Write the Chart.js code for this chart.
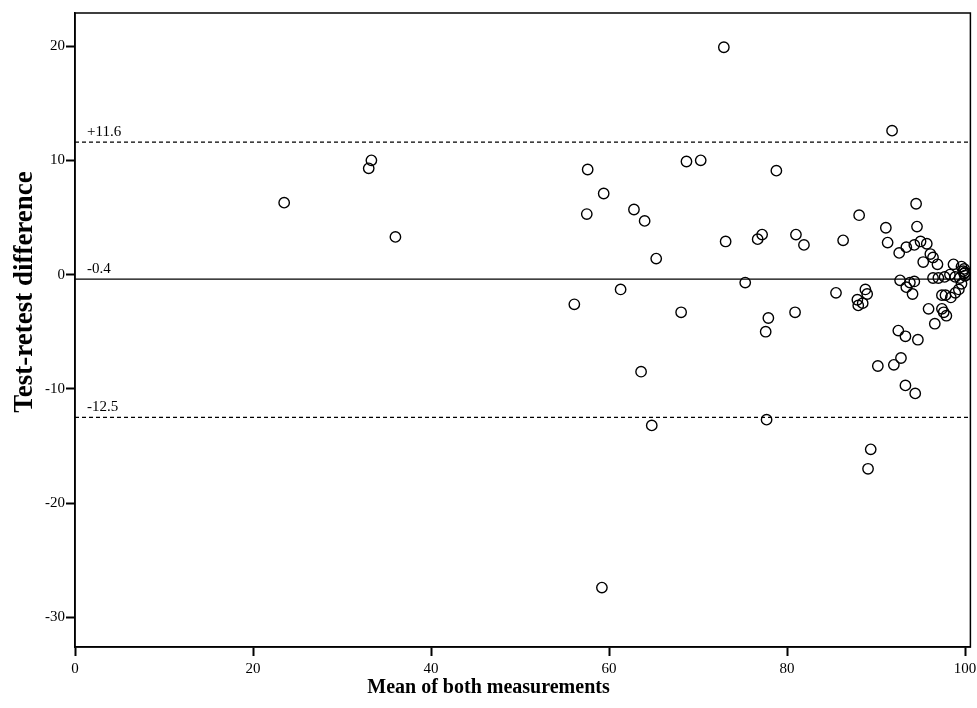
<!DOCTYPE html>
<html>
<head>
<meta charset="utf-8">
<script src="https://cdn.jsdelivr.net/npm/chart.js@4.4.1/dist/chart.umd.min.js"></script>
<style>
  html, body { margin: 0; padding: 0; background: #fff; }
  #wrap { width: 977px; height: 708px; }
</style>
</head>
<body>
<div id="wrap"><canvas id="myChart" width="977" height="708"></canvas></div>
<script>
// mean of both measurements (x) and test-retest difference (y)
const meanValues = [
  23.5, 33.0, 33.3, 36.0,
  56.1, 57.5, 57.6, 59.2, 59.4, 61.3, 62.8, 63.6, 64.0, 64.8, 65.3,
  68.1, 68.7, 70.3, 72.9, 73.1, 75.3, 76.7, 77.2, 77.6, 77.7, 77.9,
  78.8, 80.9, 81.0, 81.9, 85.5, 86.3,
  88.8, 89.0, 87.9, 88.0, 88.5, 88.1,
  89.1, 89.4, 90.2, 91.1, 91.3, 91.8,
  92.0, 92.5, 92.6, 92.7, 92.8, 93.3, 93.3, 93.4, 93.4, 93.8, 94.1, 94.3, 94.3, 94.4,
  94.5, 94.6, 94.7, 95.0, 95.3, 95.7, 95.9, 96.1, 96.4, 96.4, 96.6, 96.9, 97.0,
  97.4, 97.4, 97.6, 97.7, 97.8, 97.9, 98.3, 98.4, 98.7, 98.9, 98.9, 99.3, 99.4,
  99.6, 99.6, 99.8, 99.9, 99.9, 100.0, 100.0
];
const diffValues = [
  6.3, 9.3, 10.0, 3.3,
  -2.6, 5.3, 9.2, -27.4, 7.1, -1.3, 5.7, -8.5, 4.7, -13.2, 1.4,
  -3.3, 9.9, 10.0, 19.9, 2.9, -0.7, 3.1, 3.5, -5.0, -12.7, -3.8,
  9.1, -3.3, 3.5, 2.6, -1.6, 3.0,
  -1.3, -1.7, -2.2, -2.7, -2.5, 5.2,
  -17.0, -15.3, -8.0, 4.1, 2.8, 12.6,
  -7.9, -4.9, 1.9, -0.5, -7.3, -5.4, -9.7, 2.4, -1.1, -0.7, -1.7, -0.6, 2.6, -10.4,
  6.2, 4.2, -5.7, 2.9, 1.1, 2.7, -3.0, 1.8, 1.5, -0.3, -4.3, 0.9, -0.3,
  -1.8, -3.0, -3.3, -0.2, -1.8, -3.6, 0.0, -2.0, 0.9, -0.2, -1.6, -1.3, -0.3,
  0.7, -0.8, 0.3, 0.5, 0.1, -0.1, 0.2
];

// mean difference and limits of agreement
const limitValues = [11.6, -0.4, -12.5];
const limitLabels = ["+11.6", "-0.4", "-12.5"];

const xTicks = [0, 20, 40, 60, 80, 100];
const yTicks = [-30, -20, -10, 0, 10, 20];
const xRange = [0, 100.6];
const yRange = [-32.6, 22.9];

const xTitle = "Mean of both measurements";
const yTitle = "Test-retest difference";

const serif = "'Liberation Serif', 'Times New Roman', serif";

function limitLine(v, dashed) {
  return {
    type: 'line',
    data: [{x: xRange[0], y: v}, {x: xRange[1], y: v}],
    borderColor: '#000',
    borderWidth: dashed ? 1.2 : 1.4,
    borderDash: dashed ? [4, 3] : [],
    pointRadius: 0,
    fill: false
  };
}

var points = meanValues.map(function (m, i) {
  return {x: m, y: diffValues[i]};
});

// box around plot, labels above the limit lines, axis titles
const framePlugin = {
  id: 'frame',
  afterDatasetsDraw(chart) {
    const ctx = chart.ctx;
    const a = chart.chartArea;
    const ys = chart.scales.y;
    ctx.save();
    ctx.strokeStyle = '#000';
    ctx.lineWidth = 1.5;
    ctx.strokeRect(a.left, a.top, a.right - a.left, a.bottom - a.top);
    ctx.fillStyle = '#000';
    ctx.font = "15px " + serif;
    ctx.textAlign = 'left';
    ctx.textBaseline = 'alphabetic';
    limitValues.forEach(function (v, i) {
      ctx.fillText(limitLabels[i], a.left + 12, ys.getPixelForValue(v) - 6);
    });

    ctx.textAlign = 'center';
    ctx.font = "bold 20px " + serif;
    ctx.textBaseline = 'middle';
    ctx.fillText(xTitle, chart.width / 2, 688);

    ctx.translate(32, 292);
    ctx.rotate(-Math.PI / 2);
    ctx.font = "bold 27px " + serif;
    ctx.textBaseline = 'alphabetic';
    ctx.fillText(yTitle, 0, 0);
    ctx.restore();
  }
};

var ctx = document.getElementById('myChart').getContext('2d');
new Chart(ctx, {
  type: 'scatter',
  data: {
    datasets: [
      {
        data: points,
        pointStyle: 'circle',
        pointRadius: 5.2,
        borderColor: '#000',
        borderWidth: 1.4,
        backgroundColor: 'rgba(0,0,0,0)'
      },
      limitLine(limitValues[0], true),
      limitLine(limitValues[1], false),
      limitLine(limitValues[2], true)
    ]
  },
  options: {
    responsive: false,
    animation: false,
    layout: { padding: { top: 13, right: 6, left: 0, bottom: 0 } },
    plugins: { legend: { display: false }, tooltip: { enabled: false } },
    scales: {
      x: {
        type: 'linear',
        min: xRange[0],
        max: xRange[1],
        afterBuildTicks: function (s) { s.ticks = xTicks.map(v => ({value: v})); },
        afterFit: function (s) { s.height = 61; s.paddingLeft = 0; s.paddingRight = 0; },
        grid: { drawOnChartArea: false, tickLength: 9, tickWidth: 2, tickColor: '#000' },
        border: { color: '#000', width: 1.5 },
        ticks: { color: '#000', padding: 4, maxRotation: 0, font: { family: serif, size: 15 } }
      },
      y: {
        type: 'linear',
        min: yRange[0],
        max: yRange[1],
        afterBuildTicks: function (s) { s.ticks = yTicks.map(v => ({value: v})); },
        afterFit: function (s) { s.width = 75; s.paddingTop = 0; s.paddingBottom = 0; },
        grid: { drawOnChartArea: false, tickLength: 9, tickWidth: 2, tickColor: '#000' },
        border: { color: '#000', width: 1.5 },
        ticks: { color: '#000', padding: 1, font: { family: serif, size: 15 } }
      }
    }
  },
  plugins: [framePlugin]
});
</script>
</body>
</html>
